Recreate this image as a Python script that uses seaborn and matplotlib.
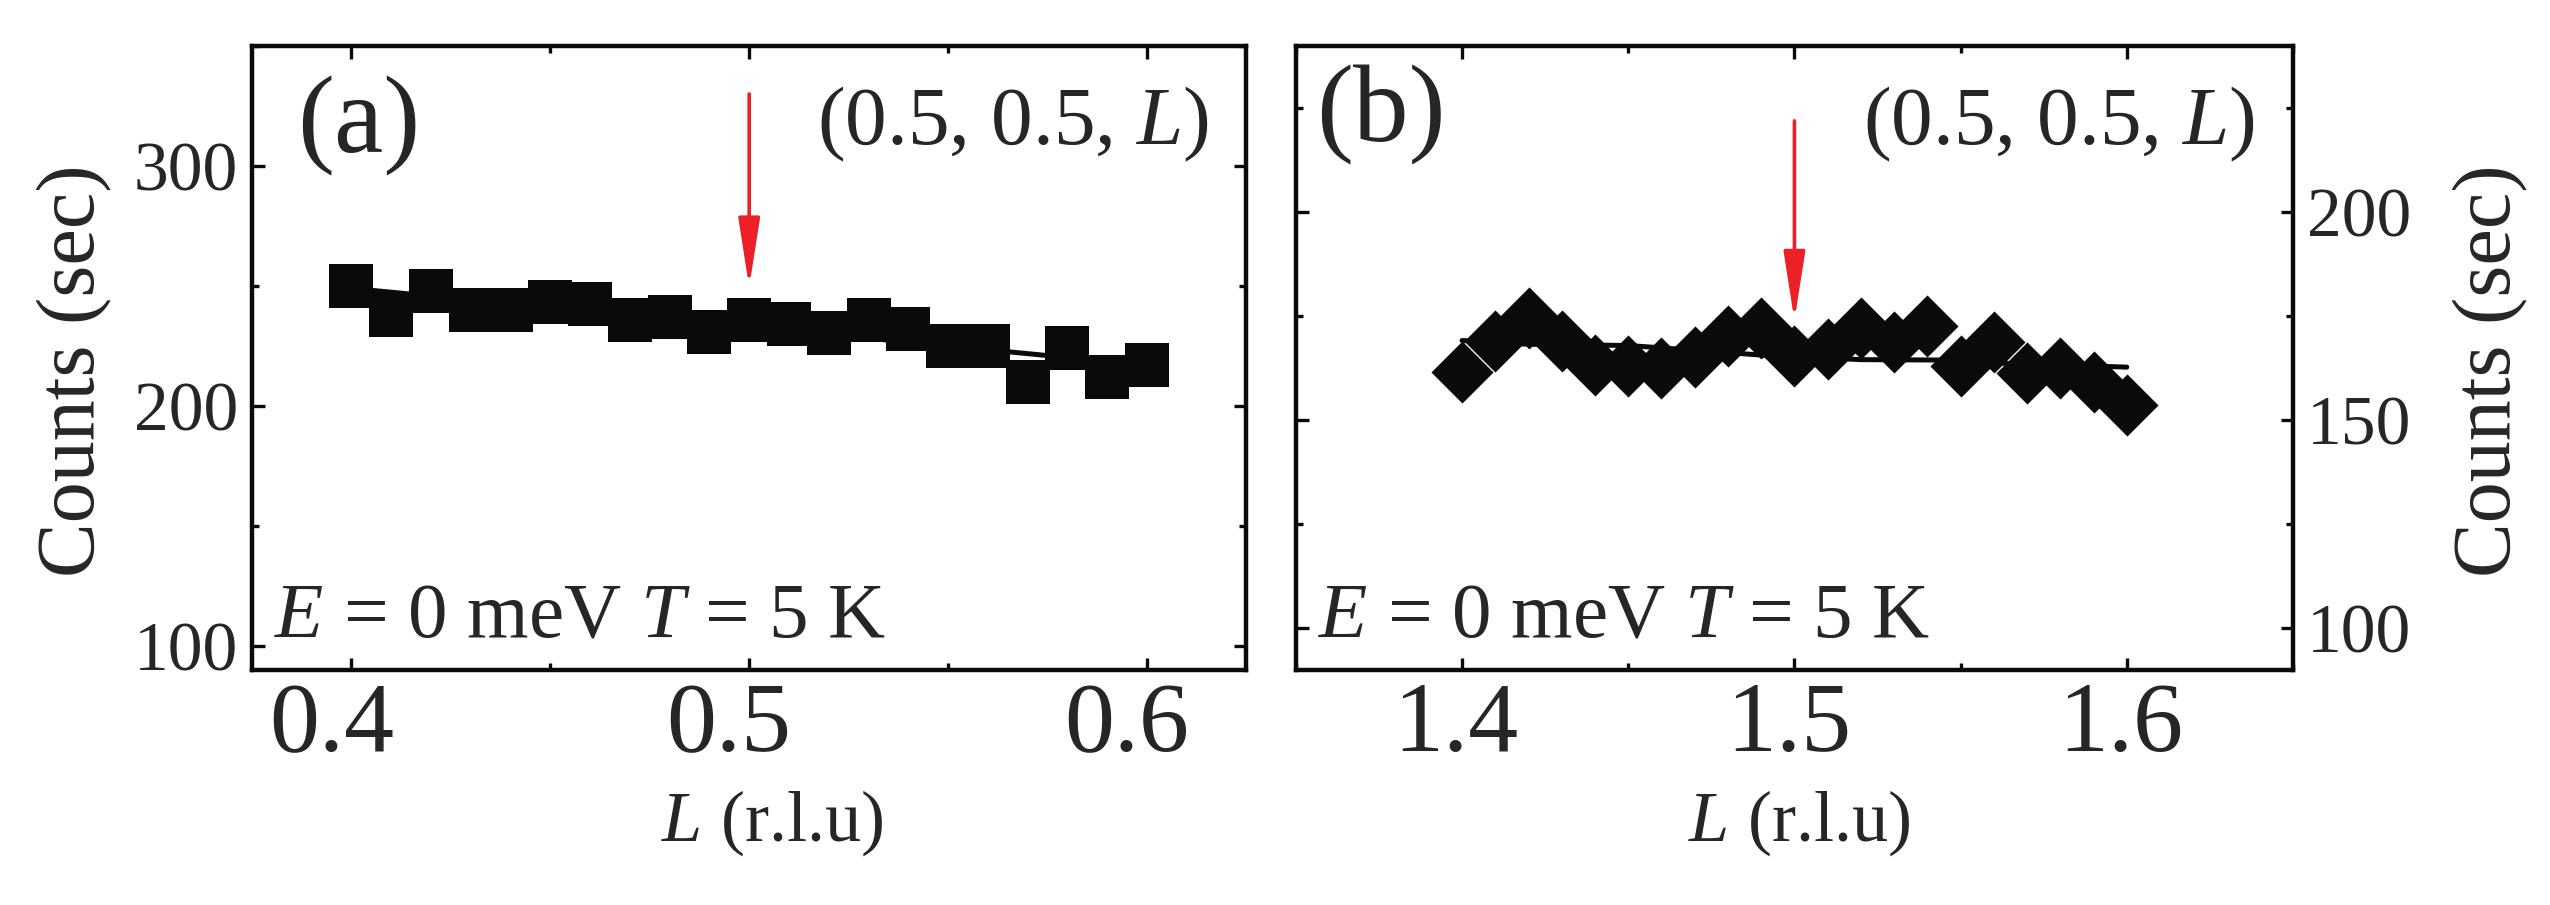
import matplotlib
matplotlib.use("Agg")
import matplotlib.pyplot as plt
from matplotlib.ticker import MultipleLocator
from matplotlib.transforms import ScaledTranslation
import numpy as np
import pandas as pd
import seaborn as sns

# (a) scan around (0.5, 0.5, L), squares
L_a = [0.40, 0.41, 0.42, 0.43, 0.44, 0.45, 0.46, 0.47, 0.48, 0.49, 0.50,
       0.51, 0.52, 0.53, 0.54, 0.55, 0.56, 0.57, 0.58, 0.59, 0.60]
counts_a = [250, 238, 248, 240, 240, 243.5, 242.5, 236, 237, 231, 236,
            234, 230.5, 236, 232, 225, 225, 210, 224, 212, 217]
fit_L_a = [0.40, 0.45, 0.50, 0.55, 0.60]
fit_a = [249, 241, 233, 225, 217]

# (b) scan around L = 1.5, diamonds
L_b = [1.40, 1.41, 1.42, 1.43, 1.44, 1.45, 1.46, 1.47, 1.48, 1.49, 1.50,
       1.51, 1.52, 1.53, 1.54, 1.55, 1.56, 1.57, 1.58, 1.59, 1.60]
counts_b = [161.7, 169.1, 174.6, 169.0, 163.4, 163.1, 162.7, 165.3, 170.3, 172.3, 165.4,
            167.1, 172.1, 168.8, 172.7, 163.1, 168.8, 161.5, 162.5, 159.2, 153.7]
fit_L_b = [1.40, 1.42, 1.45, 1.49, 1.52, 1.545, 1.56, 1.60]
fit_b = [169.2, 168.3, 168.0, 165.7, 164.6, 164.5, 163.8, 162.8]

# arrow: (L position, tail count, head count)
arrow_a = (0.50, 330, 249.5)
arrow_b = (1.50, 222, 174)

sns.set_theme(style="ticks")
plt.rcParams["font.family"] = ["Liberation Serif", "DejaVu Serif"]
plt.rcParams["mathtext.fontset"] = "custom"
plt.rcParams["mathtext.rm"] = "Liberation Serif"
plt.rcParams["mathtext.it"] = "Liberation Serif:italic"

BLACK = "#0a0a0c"
RED = "#ec2027"


def style_axes(ax, xlim, ylim, xmaj, ymaj, right=False, xshift=0):
    ax.set_xlim(*xlim)
    ax.set_ylim(*ylim)
    ax.xaxis.set_major_locator(MultipleLocator(xmaj))
    ax.xaxis.set_minor_locator(MultipleLocator(xmaj / 2))
    ax.yaxis.set_major_locator(MultipleLocator(ymaj))
    ax.yaxis.set_minor_locator(MultipleLocator(ymaj / 2))
    for s in ax.spines.values():
        s.set_linewidth(3.2)
        s.set_color(BLACK)
        s.set_visible(True)
    ax.tick_params(which="both", direction="in", top=True, right=True,
                   left=True, bottom=True, width=2.4, color=BLACK)
    ax.tick_params(which="major", length=9)
    ax.tick_params(which="minor", length=5)
    ax.tick_params(axis="x", which="major", labelsize=72, pad=9)
    ax.tick_params(axis="y", which="major", labelsize=50, pad=10)
    if right:
        ax.yaxis.set_label_position("right")
        ax.tick_params(axis="y", labelleft=False, labelright=True)
    ax.set_xlabel("$L$ (r.l.u)", fontsize=52)
    ax.set_ylabel("Counts (sec)", fontsize=59)
    offset = ScaledTranslation(xshift / 100, 0, ax.figure.dpi_scale_trans)
    for lab in ax.get_xticklabels():
        lab.set_transform(lab.get_transform() + offset)


def annotate(ax, tag, arrow, tag_x, tag_y):
    ax.text(tag_x, tag_y, tag, transform=ax.transAxes, fontsize=80,
            ha="left", va="center")
    ax.text(0.962, 0.875, "(0.5, 0.5, $L$)", transform=ax.transAxes,
            fontsize=60, ha="right", va="center")
    ax.text(0.022, 0.053, "$E$ = 0 meV $T$ = 5 K", transform=ax.transAxes,
            fontsize=57, ha="left", va="baseline")
    x, y0, y1 = arrow
    ax.annotate("", xy=(x, y1), xytext=(x, y0),
                arrowprops=dict(arrowstyle="-|>,head_length=1.4,head_width=0.22",
                                color=RED, lw=2.6, mutation_scale=30,
                                shrinkA=0, shrinkB=0))


fig = plt.figure(figsize=(25.5, 9.05), dpi=100)
ax_a = fig.add_axes([0.0988, 0.2597, 0.390, 0.6895])
ax_b = fig.add_axes([0.5082, 0.2597, 0.391, 0.6895])

df_a = pd.DataFrame({"L": L_a, "counts": counts_a})
df_b = pd.DataFrame({"L": L_b, "counts": counts_b})

ax_a.plot(fit_L_a, fit_a, color=BLACK, lw=3.6, zorder=2)
sns.scatterplot(data=df_a, x="L", y="counts", ax=ax_a, marker="s", s=1000,
                color=BLACK, linewidth=0, zorder=3)
style_axes(ax_a, (0.375, 0.625), (90, 350), 0.1, 100, xshift=-20)
annotate(ax_a, "(a)", arrow_a, 0.045, 0.872)
ax_a.yaxis.set_label_coords(-0.14, 0.48)
ax_a.xaxis.set_label_coords(0.523, -0.19)

ax_b.plot(fit_L_b, fit_b, color=BLACK, lw=3.6, solid_capstyle="round", zorder=2)
sns.scatterplot(data=df_b, x="L", y="counts", ax=ax_b, marker="D", s=1000,
                color=BLACK, linewidth=0, zorder=3)
style_axes(ax_b, (1.35, 1.65), (90, 240), 0.1, 50, right=True, xshift=-6)
annotate(ax_b, "(b)", arrow_b, 0.02, 0.89)
ax_b.yaxis.set_label_coords(1.16, 0.48)
ax_b.xaxis.set_label_coords(0.505, -0.19)

fig.savefig("out.png", dpi=100, facecolor="white")
